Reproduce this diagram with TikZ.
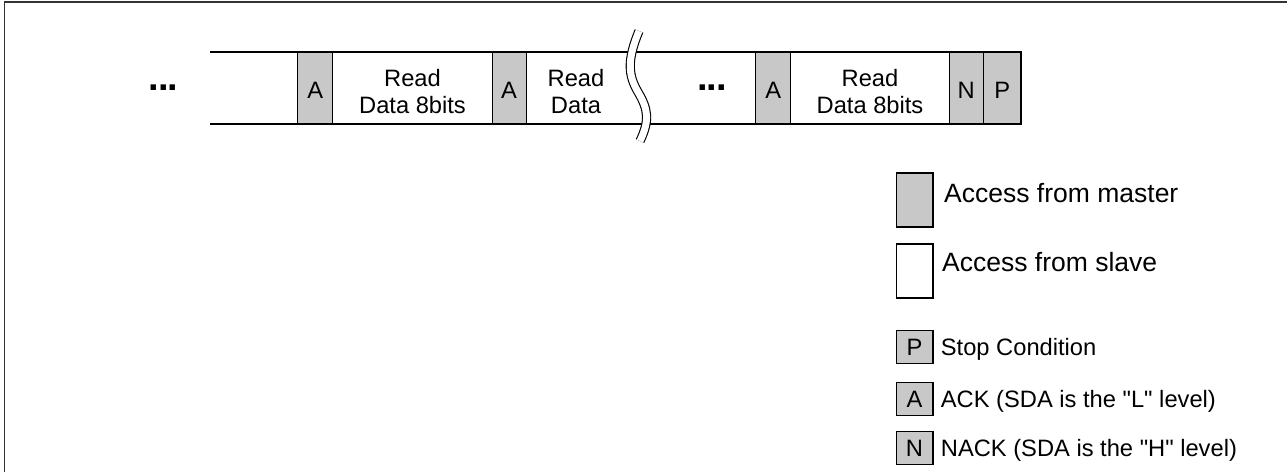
\documentclass[tikz,border=0pt]{standalone}
\usepackage{fontspec}
\setmainfont{Liberation Sans}
\definecolor{cellgray}{RGB}{200,200,200}
\newcommand{\cellfont}{\fontsize{23.7}{26.6}\selectfont}
\newcommand{\keyfont}{\fontsize{26.5}{30}\selectfont}
\newcommand{\tightdots}{.\kern-1pt.\kern-1pt.}

\begin{document}
\begin{tikzpicture}[x=1pt,y=-1pt,
  gcell/.style={draw,line width=1pt,fill=cellgray,minimum height=72pt,inner sep=0pt,outer sep=0pt,text height=21pt,text depth=0pt,font=\cellfont},
  dtext/.style={align=center,inner sep=0pt,font=\cellfont},
  dotsnode/.style={inner sep=0pt,font=\fontsize{38}{38}\selectfont\bfseries},
  keybox/.style={draw,line width=1.3pt,minimum width=36.7pt,inner sep=0pt,outer sep=0pt},
  smallkey/.style={keybox,fill=cellgray,minimum height=33pt,text height=17pt,text depth=0pt,font=\cellfont},
  keytext/.style={anchor=base west,inner sep=0pt}]
\useasboundingbox (0,0) rectangle (1287,472);
\draw[line width=1.3pt,black!80] (4.8,472) -- (4.8,2) -- (1287,2);

\node[gcell,minimum width=35pt] (a1) at (315.2,88) {A};
\node[gcell,minimum width=34pt] (a2) at (509,88) {A};
\node[gcell,minimum width=34.7pt] (a3) at (773.3,88) {A};
\node[gcell,minimum width=34.3pt] (n) at (966.2,88) {N};
\node[gcell,minimum width=37.7pt] (p) at (1002.2,88) {P};
\node[dtext] (rd1) at (412.5,91.5) {Read\\Data 8bits};
\node[dtext] (rd2) at (576,91.5) {Read\\Data};
\node[dtext] (rd3) at (870,91.5) {Read\\Data 8bits};
\node[dotsnode] (dl) at (163.5,88) {\tightdots};
\node[dotsnode] (dm) at (712,88) {\tightdots};

\coordinate (rowtl) at (210,52);
\coordinate (rowbl) at (210,124);
\draw[line width=2pt] (rowtl) -- (p.north east) -- (p.south east) -- (rowbl);

\draw[double=white,double distance=7pt,line width=1.1pt]
  (639,31) .. controls (627,60) and (628,75) .. (638,92)
  .. controls (648,109) and (650,120) .. (640,141);

\node[keybox,fill=cellgray,minimum height=54pt] (km) at (914.5,200) {};
\node[keybox,fill=white,minimum height=54pt] (ks) at (914.5,271) {};
\node[smallkey] (kp) at (914.5,347) {P};
\node[smallkey] (ka) at (914.5,399.2) {A};
\node[smallkey] (kn) at (914.5,448.3) {N};
\node[keytext,font=\keyfont] (tm) at (944,202.7) {Access from master};
\node[keytext,font=\keyfont] (ts) at (942,271.7) {Access from slave};
\node[keytext,font=\cellfont] (tp) at (940.7,355) {Stop Condition};
\node[keytext,font=\cellfont] (ta) at (940.7,407.5) {ACK (SDA is the \textquotedbl L\textquotedbl{} level)};
\node[keytext,font=\cellfont] (tn) at (940.7,456.7) {NACK (SDA is the \textquotedbl H\textquotedbl{} level)};
\end{tikzpicture}
\end{document}
